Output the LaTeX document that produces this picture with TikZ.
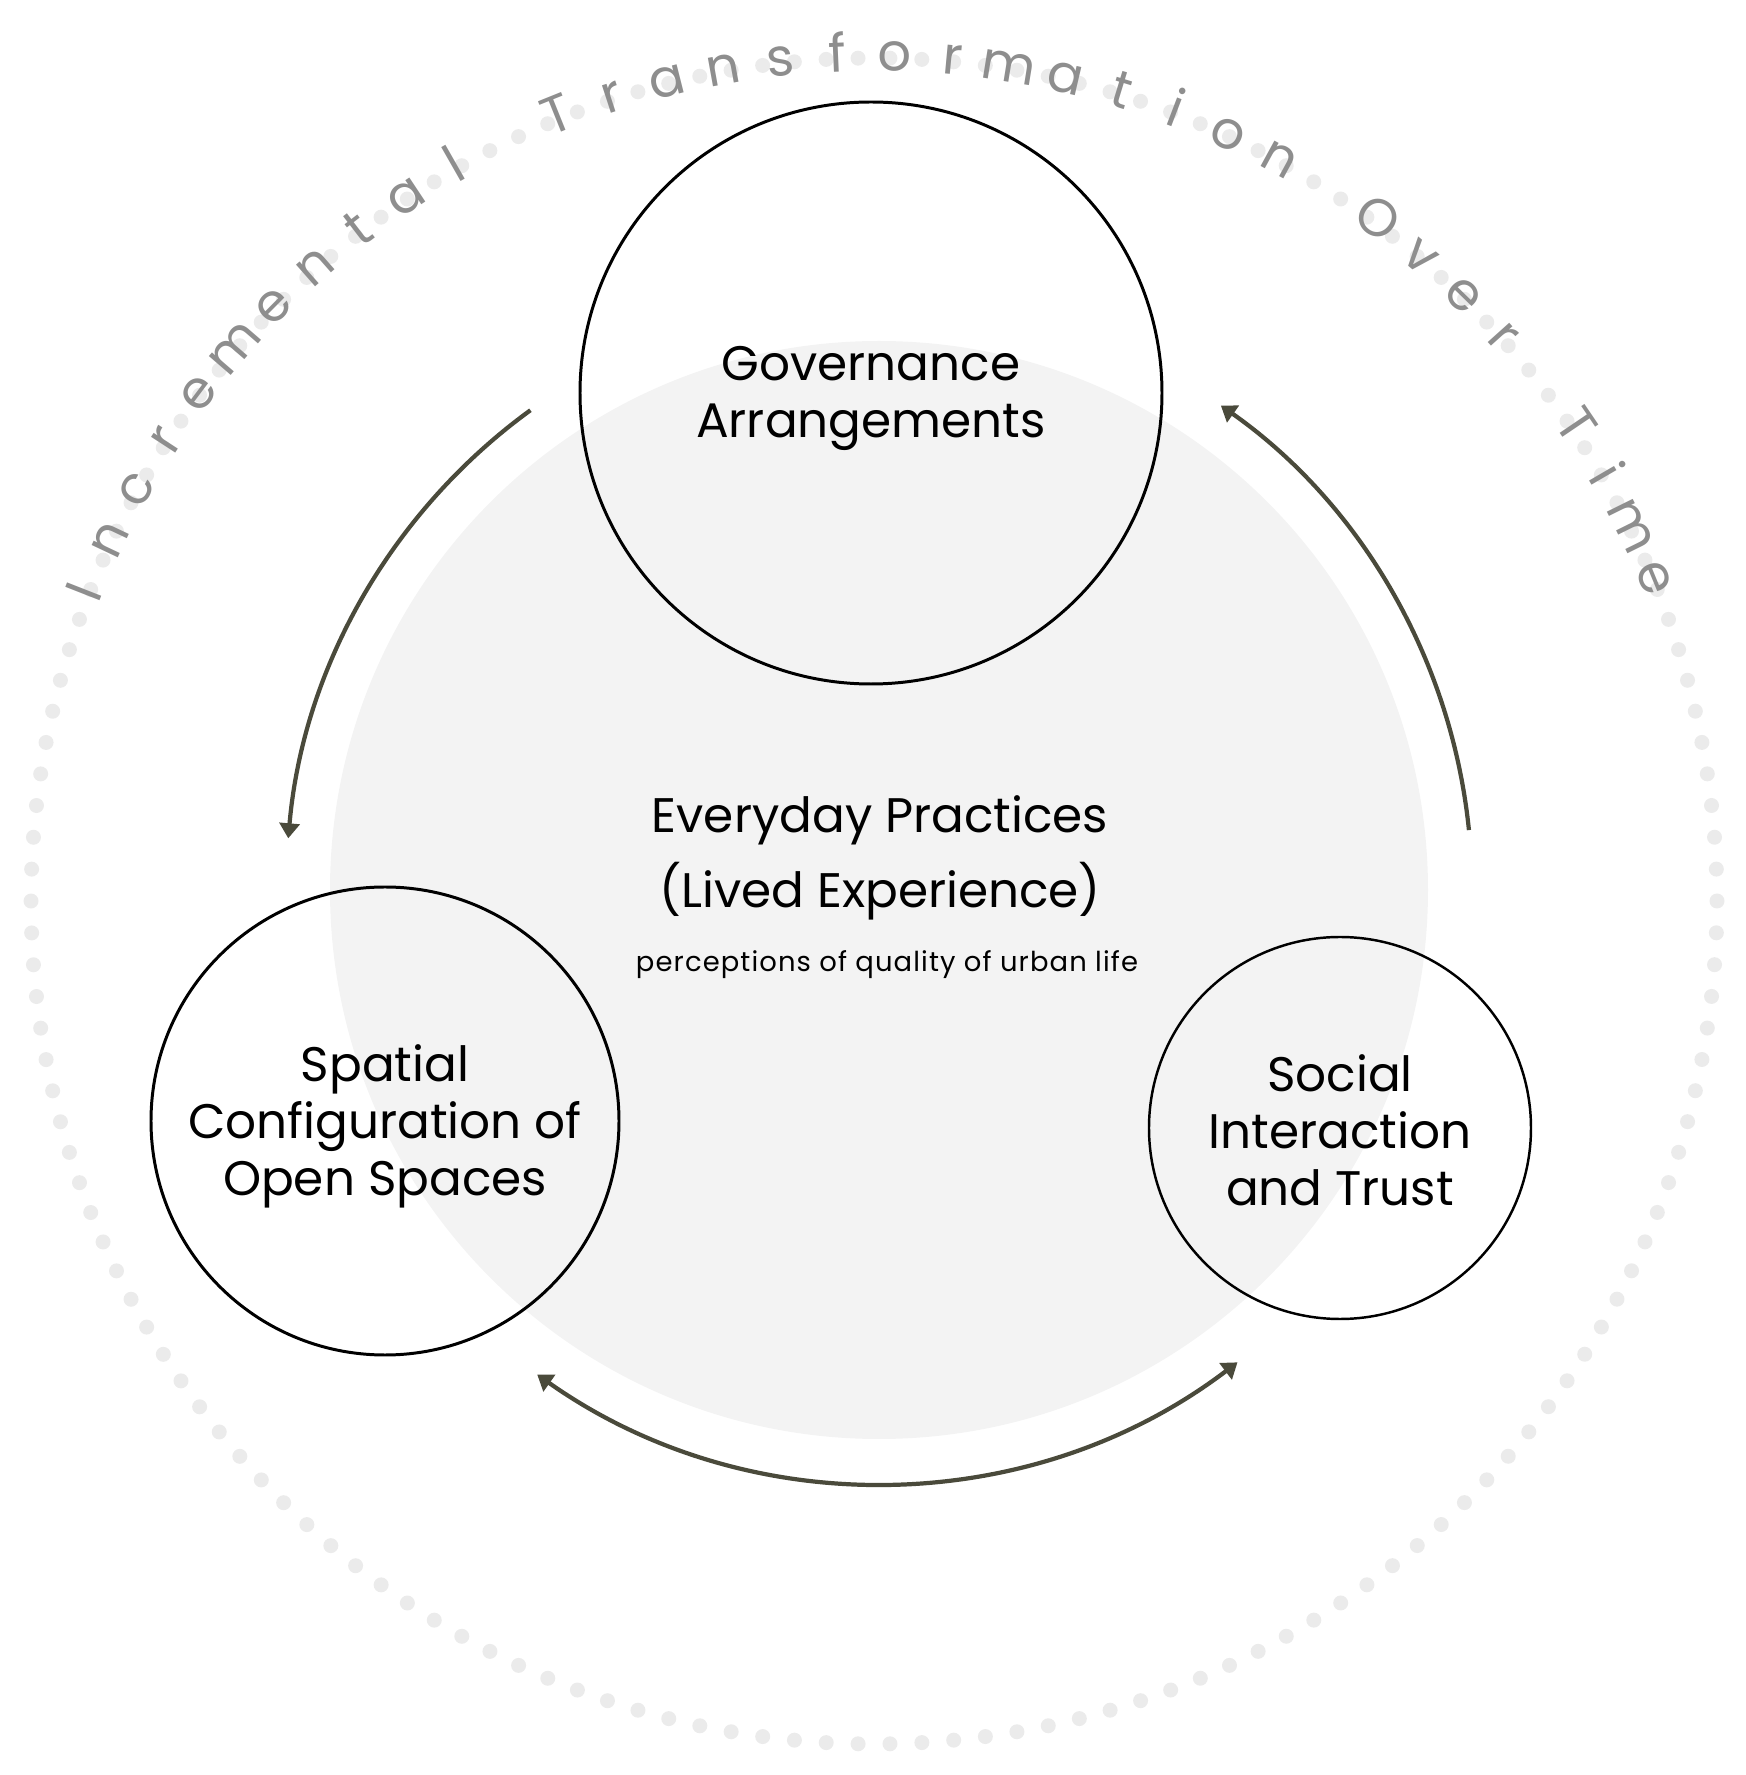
\documentclass[tikz,border=0pt]{standalone}
\usepackage{fontspec}
\setmainfont{Poppins}
\newfontfamily\labelfont{Poppins}
\newfontfamily\smallfont{Poppins}[LetterSpace=4]
\newfontfamily\ringfont{Poppins}
\usepackage{tikz}
\usetikzlibrary{arrows.meta,calc}
\definecolor{discgray}{HTML}{F3F3F3}
\definecolor{dotgray}{HTML}{EBEBEB}
\definecolor{ringtext}{HTML}{8E8E8E}
\definecolor{olive}{HTML}{4A4A3B}

\begin{document}
\begin{tikzpicture}[x=0.1mm,y=0.1mm,
  circ/.style={draw=black, line width=0.85pt},
  lbl/.style={align=center, font=\labelfont\fontsize{13.8}{16.2}\selectfont},
  flow/.style={draw=olive, line width=1.2pt, -{Triangle[length=1.5mm,width=2mm]}}]
\useasboundingbox (0,0) rectangle (1746,1775);
% centres
\coordinate (mid)  at (879,885);
\coordinate (ring) at (874,874);
% background disc
\fill[discgray] (mid) circle[radius=549];
% dotted ring
\foreach \k in {0,...,165}
  \fill[dotgray] ($(ring)+(\k*2.1687:843)$) circle[radius=7.5];
% ring title
\foreach \ch [count=\i from 0] in {I,n,c,r,e,m,e,n,t,a,l,{},T,r,a,n,s,f,o,r,m,a,t,i,o,n,{},O,v,e,r,{},T,i,m,e}
  \node[anchor=base, inner sep=0pt, text=ringtext, font=\ringfont\fontsize{15}{15}\selectfont,
        rotate=158.6-\i*3.89-90] at ($(ring)+(158.6-\i*3.89:830)$) {\ch};
% the three circles
\draw[circ] (871,1382) circle[radius=291];
\draw[circ] (385,654) circle[radius=234];
\draw[circ, line width=0.7pt] (1340,647) circle[radius=191];
\node[lbl] (gov)  at (871,1377) {Governance\\Arrangements};
\node[lbl] (spat) at (385,649) {Spatial\\Configuration of\\Open Spaces};
\node[lbl] (soc)  at (1340,645) {Social\\Interaction\\and Trust};
% centre text
\node[lbl] (life) at (880,917) {Everyday Practices\\[4pt](Lived Experience)};
\node[font=\smallfont\fontsize{7.8}{10}\selectfont] (qual) at (887,810) {perceptions of quality of urban life};
% cycle arrows
\draw[flow] ($(mid)+(126:593)$) arc[start angle=126, end angle=175, radius=593];
\draw[flow] ($(mid)+(5.8:593)$) arc[start angle=5.8, end angle=54.8, radius=593];
\draw[flow, {Triangle[length=1.5mm,width=2mm]}-{Triangle[length=1.5mm,width=2mm]}]
  ($(mid)+(234.8:593)$) arc[start angle=234.8, end angle=307.2, radius=593];
\end{tikzpicture}
\end{document}
